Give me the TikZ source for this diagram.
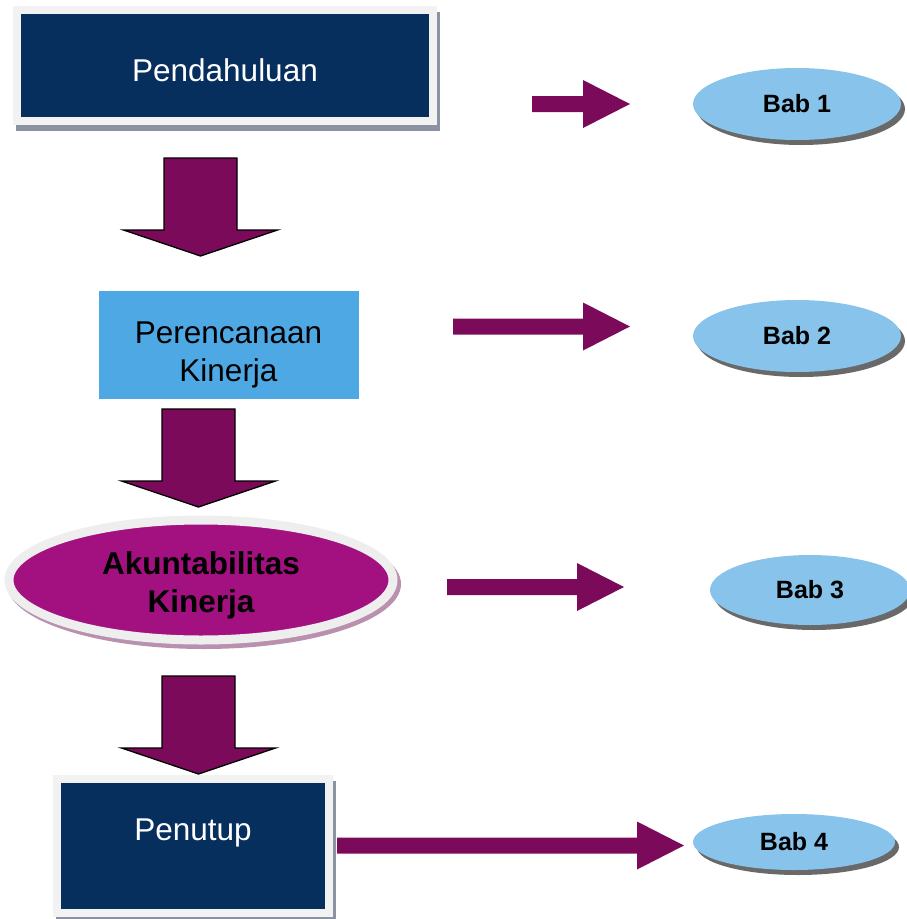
\documentclass[tikz,border=0pt]{standalone}
\usepackage{fontspec}
\setmainfont{Liberation Sans}
\usetikzlibrary{shapes,shapes.geometric}
\usetikzlibrary{positioning,backgrounds,shadows}
\definecolor{navy}{RGB}{6,47,94}
\definecolor{framegrey}{RGB}{242,242,242}
\definecolor{shadowgrey}{RGB}{138,146,164}
\definecolor{skyblue}{RGB}{77,168,228}
\definecolor{akunpink}{RGB}{163,16,127}
\definecolor{ringgrey}{RGB}{238,238,238}
\definecolor{pinkshadow}{RGB}{185,145,175}
\definecolor{babblue}{RGB}{135,195,235}
\definecolor{babshadow}{RGB}{105,105,105}
\definecolor{arrowpurple}{RGB}{124,10,90}
\newcommand{\bigtxt}{\fontsize{31.5}{38}\selectfont}
\newcommand{\babtxt}{\fontsize{25}{30}\selectfont}
\newcommand{\downarr}[2]{\draw[arrowfill] (#1,#2) ++(-36.5,0) -- ++(73,0) -- ++(0,72) -- ++(40.5,0) -- ++(-77,26) -- ++(-77,-26) -- ++(40.5,0) -- cycle;}
\newcommand{\rightarr}[3]{\fill[arrowpurple] (#1,#2) ++(0,-8) -- ++(#3-47,0) -- ++(0,-16) -- ++(47,24) -- ++(-47,24) -- ++(0,-16) -- ++(-#3+47,0) -- cycle;}
\tikzset{
  framebox/.style={rectangle, fill=navy, draw=framegrey, line width=8pt},
  whitetxt/.style={text=white, font=\bigtxt},
  planbox/.style={rectangle, fill=skyblue, minimum width=260pt, minimum height=108pt},
  plantxt/.style={font=\bigtxt, align=center},
  akunoval/.style={ellipse, fill=akunpink, draw=ringgrey, line width=9pt, minimum width=384pt, minimum height=120pt},
  akuntxt/.style={font=\bigtxt\bfseries, align=center},
  babnode/.style={ellipse, fill=babblue, font=\babtxt\bfseries, drop shadow={shadow xshift=4pt, shadow yshift=-5pt, fill=babshadow, opacity=1}},
  arrowfill/.style={fill=arrowpurple, draw=black, line width=1.3pt},
}

\begin{document}
\begin{tikzpicture}[x=1pt, y=-1pt]
\useasboundingbox (0,0) rectangle (907,919);

\draw(225,65.5) node[framebox, minimum width=416pt, minimum height=111pt] (pend) {};
\draw(225,70) node[whitetxt] (pendtxt) {Pendahuluan};
\draw(228.5,345) node[planbox] (renc) {};
\draw(228.5,355) node[plantxt] (renctxt) {Perencanaan\\Kinerja};
\draw(201,580) node[akunoval] (akun) {};
\draw(201,585) node[akuntxt] (akuntxt) {Akuntabilitas\\Kinerja};
\draw(193,846) node[framebox, minimum width=272pt, minimum height=134pt] (tutup) {};
\draw(193,833) node[whitetxt] (tutuptxt) {Penutup};

\begin{scope}[on background layer]
\fill[shadowgrey] ([xshift=3pt,yshift=-6pt]pend.south west) rectangle ([xshift=3pt,yshift=-6pt]pend.north east);
\fill[shadowgrey] ([xshift=3pt,yshift=-6pt]tutup.south west) rectangle ([xshift=3pt,yshift=-6pt]tutup.north east);
\fill[pinkshadow] ([xshift=3pt,yshift=-4pt]akun.center) ellipse (197pt and 65pt);
\end{scope}

\draw(797,104) node[babnode, minimum width=208pt, minimum height=72pt] (bab1) {Bab 1};
\draw(797,336) node[babnode, minimum width=208pt, minimum height=72pt] (bab2) {Bab 2};
\draw(810,590) node[babnode, minimum width=200pt, minimum height=70pt] (bab3) {Bab 3};
\draw(794,842) node[babnode, minimum width=202pt, minimum height=56pt] (bab4) {Bab 4};

\downarr{200.5}{158}
\downarr{198.5}{409}
\downarr{198.5}{676}

\rightarr{532}{104}{98}
\rightarr{453}{326.5}{177}
\rightarr{447}{587}{177}
\rightarr{337}{845.5}{347}
\end{tikzpicture}
\end{document}
